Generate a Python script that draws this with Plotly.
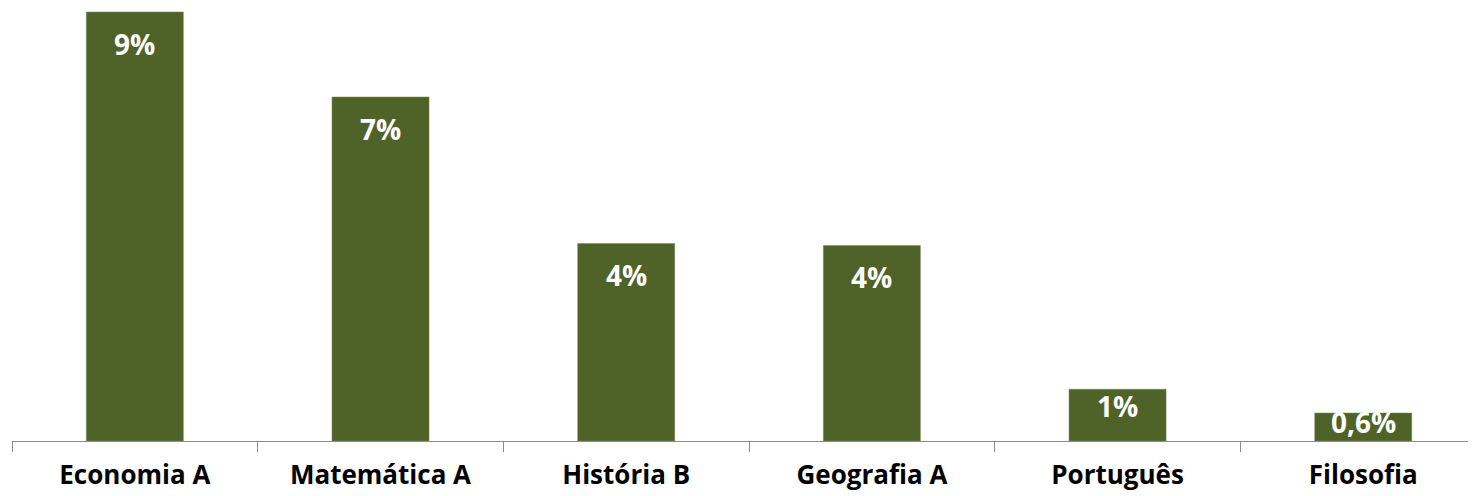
import plotly.graph_objects as go

categories = ["Economia A", "Matemática A", "História B", "Geografia A", "Português", "Filosofia"]
values = [9.19, 7.37, 4.23, 4.19, 1.11, 0.6]
labels = ["9%", "7%", "4%", "4%", "1%", "0,6%"]

BAR = "#4F6228"

fig = go.Figure()
fig.add_trace(go.Bar(
    x=categories, y=values,
    marker=dict(color=BAR, line=dict(color="#7A8A5A", width=0.5)),
    width=0.395,
    hoverinfo="skip",
))

for c, v, t in zip(categories, values, labels):
    fig.add_annotation(
        x=c, y=v - min(0.68, 0.32 * v), text=t, showarrow=False,
        font=dict(family="Open Sans", size=28, color="white", weight="bold"),
        xanchor="center", yanchor="middle",
    )

fig.update_layout(
    width=1468, height=488,
    margin=dict(l=4, r=0, t=0, b=55, autoexpand=False),
    plot_bgcolor="white", paper_bgcolor="white",
    showlegend=False,
    xaxis=dict(
        type="category",
        range=[-0.5, 5.459],
        automargin=False,
        showline=True, linecolor="#8C8C8C", linewidth=1.3,
        ticks="outside", tickson="boundaries", ticklen=10, tickcolor="#8C8C8C", tickwidth=1.3,
        tickfont=dict(family="Open Sans", size=26, color="black", weight="bold"),
        ticklabelstandoff=11,
        showgrid=False, zeroline=False,
    ),
    yaxis=dict(range=[0, 9.276], visible=False, showgrid=False, zeroline=False),
)

fig.write_html("out.html")
